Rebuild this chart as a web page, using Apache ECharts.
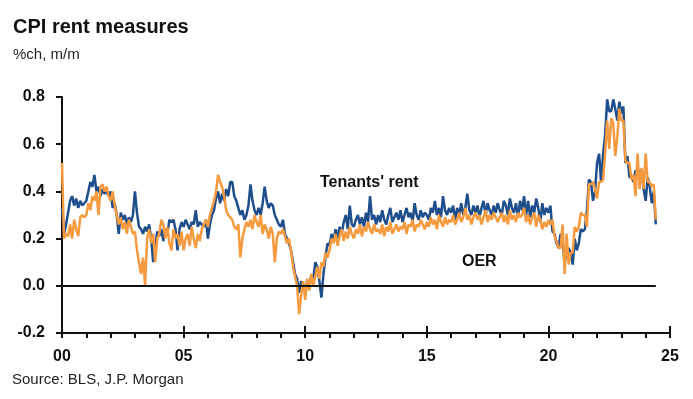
<!DOCTYPE html>
<html>
<head>
<meta charset="utf-8">
<script src="https://cdn.jsdelivr.net/npm/echarts@6/dist/echarts.min.js"></script>
<style>
  html, body { margin: 0; padding: 0; background: #fff; }
  #chart { width: 693px; height: 399px; }
</style>
</head>
<body>
<div id="chart"></div>
<script>
// monthly % change, Jan 2000 - Jun 2024
const startYear = 2000;
const tenantsRent = [
  0.33,0.22,0.26,0.31,0.36,0.38,0.34,0.37,0.33,0.36,0.34,0.35,
  0.36,0.40,0.44,0.42,0.47,0.40,0.42,0.38,0.41,0.39,0.40,0.38,
  0.40,0.33,0.35,0.30,0.22,0.31,0.28,0.30,0.26,0.29,0.27,0.30,
  0.40,0.31,0.25,0.24,0.22,0.25,0.23,0.26,0.20,0.10,0.17,0.23,
  0.21,0.24,0.19,0.24,0.22,0.28,0.27,0.28,0.24,0.15,0.24,0.27,
  0.25,0.28,0.26,0.24,0.27,0.26,0.32,0.25,0.27,0.26,0.25,0.28,
  0.20,0.26,0.30,0.32,0.37,0.40,0.35,0.39,0.36,0.41,0.38,0.44,
  0.44,0.38,0.36,0.33,0.30,0.32,0.28,0.30,0.34,0.43,0.36,0.32,
  0.30,0.33,0.30,0.35,0.42,0.36,0.33,0.35,0.34,0.30,0.28,0.26,
  0.25,0.28,0.22,0.20,0.18,0.15,0.10,0.05,0.03,-0.03,0.02,-0.02,
  -0.02,0.02,0.00,0.04,0.03,0.10,0.08,0.02,-0.05,0.05,0.12,0.18,
  0.17,0.22,0.19,0.24,0.20,0.25,0.22,0.27,0.30,0.24,0.34,0.26,
  0.25,0.28,0.30,0.26,0.29,0.25,0.31,0.27,0.38,0.28,0.30,0.26,
  0.30,0.27,0.32,0.28,0.26,0.30,0.33,0.27,0.29,0.31,0.28,0.32,
  0.27,0.30,0.33,0.29,0.31,0.27,0.35,0.30,0.28,0.32,0.29,0.31,
  0.30,0.28,0.33,0.31,0.36,0.30,0.33,0.29,0.38,0.32,0.30,0.33,
  0.31,0.34,0.28,0.33,0.30,0.35,0.30,0.33,0.39,0.32,0.30,0.34,
  0.31,0.34,0.29,0.33,0.36,0.30,0.35,0.32,0.30,0.34,0.31,0.35,
  0.32,0.30,0.36,0.34,0.30,0.37,0.33,0.31,0.35,0.29,0.36,0.32,
  0.38,0.30,0.36,0.29,0.34,0.31,0.37,0.33,0.27,0.35,0.30,0.33,
  0.31,0.34,0.23,0.22,0.18,0.16,0.22,0.18,0.10,0.14,0.16,0.14,
  0.09,0.20,0.15,0.18,0.24,0.23,0.24,0.32,0.45,0.44,0.36,0.40,
  0.52,0.56,0.44,0.56,0.64,0.79,0.74,0.74,0.79,0.75,0.70,0.78,
  0.73,0.76,0.52,0.55,0.46,0.46,0.44,0.49,0.46,0.49,0.48,0.41,
  0.36,0.46,0.42,0.35,0.40,0.26
];
const oer = [
  0.52,0.20,0.22,0.21,0.26,0.20,0.28,0.24,0.21,0.29,0.30,0.29,
  0.30,0.35,0.32,0.38,0.36,0.40,0.30,0.42,0.43,0.40,0.42,0.38,
  0.36,0.40,0.34,0.30,0.26,0.29,0.24,0.27,0.22,0.28,0.25,0.22,
  0.23,0.15,0.10,0.05,0.12,0.00,0.20,0.24,0.18,0.22,0.10,0.20,
  0.22,0.28,0.26,0.20,0.25,0.18,0.15,0.24,0.20,0.22,0.17,0.23,
  0.15,0.20,0.22,0.17,0.25,0.20,0.16,0.22,0.19,0.24,0.26,0.28,
  0.25,0.30,0.33,0.36,0.40,0.47,0.44,0.42,0.38,0.32,0.30,0.29,
  0.28,0.25,0.24,0.26,0.12,0.20,0.24,0.27,0.25,0.28,0.24,0.30,
  0.27,0.25,0.30,0.22,0.26,0.24,0.20,0.25,0.22,0.10,0.20,0.23,
  0.22,0.24,0.21,0.18,0.20,0.15,0.08,0.04,0.00,-0.12,-0.04,0.02,
  -0.06,0.03,-0.02,0.05,0.00,0.04,0.08,0.03,0.10,0.08,0.14,0.12,
  0.15,0.20,0.18,0.22,0.17,0.21,0.24,0.19,0.23,0.20,0.25,0.22,
  0.20,0.24,0.22,0.26,0.21,0.25,0.23,0.27,0.24,0.22,0.26,0.23,
  0.24,0.22,0.26,0.21,0.25,0.23,0.27,0.22,0.24,0.26,0.23,0.25,
  0.24,0.27,0.22,0.26,0.25,0.28,0.23,0.26,0.25,0.28,0.26,0.24,
  0.27,0.25,0.29,0.26,0.28,0.24,0.30,0.27,0.25,0.29,0.26,0.28,
  0.27,0.30,0.26,0.28,0.31,0.27,0.29,0.33,0.28,0.30,0.26,0.29,
  0.31,0.28,0.30,0.26,0.29,0.32,0.27,0.30,0.28,0.31,0.29,0.27,
  0.29,0.31,0.27,0.30,0.26,0.32,0.28,0.30,0.27,0.31,0.29,0.30,
  0.33,0.27,0.30,0.26,0.29,0.31,0.25,0.30,0.28,0.24,0.27,0.25,
  0.28,0.26,0.28,0.21,0.19,0.16,0.16,0.26,0.05,0.22,0.09,0.14,
  0.14,0.25,0.23,0.25,0.31,0.30,0.30,0.25,0.43,0.43,0.44,0.41,
  0.37,0.44,0.44,0.45,0.56,0.70,0.58,0.71,0.69,0.55,0.63,0.75,
  0.70,0.70,0.53,0.52,0.52,0.45,0.47,0.38,0.56,0.41,0.50,0.41,
  0.56,0.44,0.44,0.42,0.43,0.28
];
const yTicks = [-0.2, 0.0, 0.2, 0.4, 0.6, 0.8];
const xLabelYears = [2000, 2005, 2010, 2015, 2020, 2025];

const font = "'Liberation Sans', Arial, sans-serif";
const toXY = arr => arr.map((v, i) => [startYear + i / 12, v]);
const lastX = startYear + (tenantsRent.length - 1) / 12;

const chart = echarts.init(document.getElementById('chart'));

const option = {
  animation: false,
  backgroundColor: '#fff',
  grid: { left: 62, right: 23, top: 97, bottom: 66 },
  graphic: [
    { type: 'text', left: 13, top: 17, style: { text: 'CPI rent measures', font: 'bold 20px ' + font, fill: '#111' } },
    { type: 'text', left: 13, top: 47, style: { text: '%ch, m/m', font: '15px ' + font, fill: '#222' } },
    { type: 'text', left: 12, top: 372, style: { text: 'Source: BLS, J.P. Morgan', font: '15px ' + font, fill: '#222' } },
    { type: 'text', left: 320, top: 175, style: { text: "Tenants' rent", font: 'bold 16px ' + font, fill: '#111' } },
    { type: 'text', left: 462, top: 254, style: { text: 'OER', font: 'bold 16px ' + font, fill: '#111' } }
  ],
  xAxis: [
    {
      type: 'value', min: 2000, max: 2025, interval: 1,
      axisLine: { onZero: false, lineStyle: { color: '#111', width: 2 } },
      axisTick: { length: 5, lineStyle: { color: '#111', width: 2 } },
      splitLine: { show: false },
      axisLabel: {
        margin: 16, color: '#111', fontFamily: font, fontWeight: 'bold', fontSize: 16,
        formatter: v => xLabelYears.includes(v) ? String(v % 100).padStart(2, '0') : ''
      }
    },
    {
      type: 'value', min: 2000, max: 2025, interval: 5, position: 'bottom',
      axisLine: { show: false, onZero: false },
      axisTick: { inside: true, length: 7, lineStyle: { color: '#111', width: 2 } },
      axisLabel: { show: false },
      splitLine: { show: false }
    }
  ],
  yAxis: {
    type: 'value', min: yTicks[0], max: yTicks[yTicks.length - 1], interval: 0.2,
    axisLine: { show: true, lineStyle: { color: '#111', width: 2 } },
    axisTick: { show: true, length: 6, lineStyle: { color: '#111', width: 2 } },
    splitLine: { show: false },
    axisLabel: {
      margin: 17, color: '#111', fontFamily: font, fontWeight: 'bold', fontSize: 16,
      formatter: v => v.toFixed(1)
    }
  },
  series: [
    {
      name: "Tenants' rent", type: 'line', xAxisIndex: 0, data: toXY(tenantsRent),
      showSymbol: false, lineStyle: { color: '#1f4e8c', width: 2.5 },
      markLine: {
        silent: true, symbol: 'none', label: { show: false },
        lineStyle: { color: '#111', width: 2, type: 'solid' },
        data: [[{ coord: [startYear, 0] }, { coord: [lastX, 0] }]]
      }
    },
    {
      name: 'OER', type: 'line', xAxisIndex: 0, data: toXY(oer),
      showSymbol: false, lineStyle: { color: '#f59a3e', width: 2.5 }
    }
  ]
};

chart.setOption(option);
</script>
</body>
</html>
